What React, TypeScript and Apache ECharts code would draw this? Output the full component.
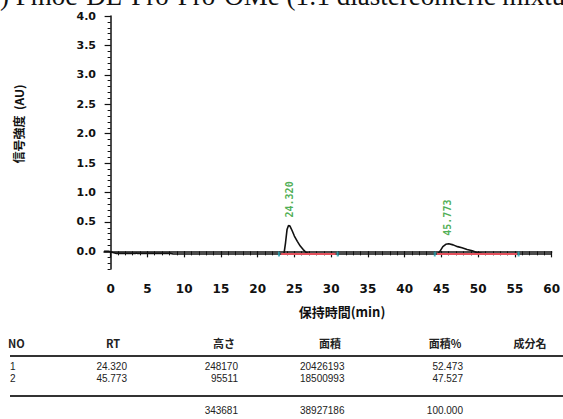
import React, { useEffect, useRef } from "react";
import * as echarts from "echarts";

const titleText = ") Fmoc-DL-Pro-Pro-OMe (1:1 diastereomeric mixture)";
const yAxisTitle = "信号強度  (AU)";
const xAxisTitle = "保持時間(min)";

const yTickValues = [0, 0.5, 1.0, 1.5, 2.0, 2.5, 3.0, 3.5, 4.0];
const xTickValues = [0, 5, 10, 15, 20, 25, 30, 35, 40, 45, 50, 55, 60];

const traceTime = [-0.9, -0.3, 0.3, 0.8, 3.4, 3.5, 3.6, 8.2, 8.5, 23.4, 23.6, 23.8, 24.0, 24.2, 24.4, 24.7, 25.0, 25.4, 25.8, 26.2, 26.6, 27.0, 27.5, 44.5, 44.8, 45.2, 45.6, 46.0, 46.6, 47.2, 47.8, 48.5, 49.2, 49.8, 50.5, 51.2, 60];
const traceSignal = [0.0, 0.0, -0.02, -0.035, -0.035, -0.025, -0.035, -0.035, -0.045, -0.045, -0.03, 0.15, 0.37, 0.44, 0.43, 0.35, 0.26, 0.17, 0.09, 0.03, -0.02, -0.04, -0.045, -0.045, 0.0, 0.08, 0.12, 0.13, 0.11, 0.08, 0.06, 0.03, 0.01, -0.02, -0.035, -0.045, -0.045];

const peakRT = [24.32, 45.773];
const peakTop = [0.44, 0.13];
const peakLabels = ["24.320", "45.773"];

const baselineStart = [23.2, 44.4];
const baselineEnd = [30.6, 55.3];
const baselineLevel = -0.045;
const markerTimes = [22.9, 30.9, 44.1, 55.5];

const tableHeaders = ["NO", "RT", "高さ", "面積", "面積%", "成分名"];
const peakNo = ["1", "2"];
const rtValues = ["24.320", "45.773"];
const heightValues = ["248170", "95511"];
const areaValues = ["20426193", "18500993"];
const areaPctValues = ["52.473", "47.527"];
const heightTotal = "343681";
const areaTotal = "38927186";
const areaPctTotal = "100.000";

export default function App() {
  const ref = useRef<HTMLDivElement>(null);
  useEffect(() => {
    if (!ref.current) return;
    const chart = echarts.init(ref.current, null, { renderer: "svg" });
    const axisFont = { fontFamily: "DejaVu Sans", fontWeight: "bold" as const, fontSize: 11, color: "#111" };
    const txt = (text: string, x: number, y: number, align: string, bold = false, size = 10, family = "Liberation Sans") => ({
      type: "text",
      x,
      y,
      style: { text, fill: "#222", font: `${bold ? "bold " : ""}${size}px "${family}"`, textAlign: align, textVerticalAlign: "middle", lineHeight: size },
    });
    const xMinorTicks = Array.from({ length: 61 }, (_, i) => i);
    const headerX = [8, 113, 224, 330, 445, 530];
    const headerAlign = ["left", "center", "center", "center", "center", "center"];
    const graphics: any[] = [
      { type: "text", x: 0, y: -4, style: { text: titleText, fill: "#111", font: '27px "Liberation Serif"', textVerticalAlign: "middle", lineHeight: 26 } },
      { type: "text", x: 18, y: 124, rotation: Math.PI / 2, style: { text: yAxisTitle, fill: "#111", font: 'bold 12px "Noto Sans CJK JP"', textAlign: "center", textVerticalAlign: "middle" } },
      { type: "text", x: 342, y: 311, style: { text: xAxisTitle, fill: "#111", font: 'bold 13px "Noto Sans CJK JP"', textAlign: "center", textVerticalAlign: "middle" } },
      { type: "line", shape: { x1: 10, y1: 356, x2: 563, y2: 356 }, style: { stroke: "#333", lineWidth: 2 } },
      { type: "line", shape: { x1: 10, y1: 396, x2: 563, y2: 396 }, style: { stroke: "#333", lineWidth: 2 } },
    ];
    tableHeaders.forEach((h, i) => graphics.push(txt(h, headerX[i], 343, headerAlign[i], true, 11, "Noto Sans CJK JP")));
    peakNo.forEach((n, i) => {
      const y = 366 + i * 12;
      graphics.push(txt(n, 10, y, "left"));
      graphics.push(txt(rtValues[i], 127, y, "right"));
      graphics.push(txt(heightValues[i], 238, y, "right"));
      graphics.push(txt(areaValues[i], 300, y, "left"));
      graphics.push(txt(areaPctValues[i], 463, y, "right"));
    });
    graphics.push(txt(heightTotal, 238, 410, "right"));
    graphics.push(txt(areaTotal, 300, 410, "left"));
    graphics.push(txt(areaPctTotal, 463, 410, "right"));

    chart.setOption({
      animation: false,
      backgroundColor: "#fff",
      grid: { left: 104, width: 462, top: 16, bottom: 150 },
      xAxis: [
        {
          type: "value", min: -0.9, max: 60, position: "bottom",
          axisLine: { show: true, lineStyle: { color: "#111", width: 1.5 } },
          axisTick: { show: true, customValues: xTickValues, length: 6, lineStyle: { color: "#111", width: 1.2 } },
          axisLabel: { customValues: xTickValues, margin: 14, ...axisFont, fontSize: 12 },
          splitLine: { show: false },
        },
        {
          type: "value", min: -0.9, max: 60, position: "bottom",
          axisLine: { show: false },
          axisTick: { show: true, customValues: xMinorTicks, length: 4, lineStyle: { color: "#111", width: 1 } },
          axisLabel: { show: false },
          splitLine: { show: false },
        },
      ],
      yAxis: [
        {
          type: "value", min: -0.3, max: 4, position: "left",
          axisLine: { show: true, lineStyle: { color: "#111", width: 1.5 } },
          axisTick: { show: true, customValues: yTickValues, length: 6, lineStyle: { color: "#111", width: 1.2 } },
          axisLabel: { customValues: yTickValues, margin: 8, formatter: (v: number) => v.toFixed(1), ...axisFont },
          splitLine: { show: false },
        },
        {
          type: "value", min: -0.3, max: 4, interval: 0.1, position: "left",
          axisLine: { show: false },
          axisTick: { show: true, length: 3, lineStyle: { color: "#111", width: 1 } },
          axisLabel: { show: false },
          splitLine: { show: false },
        },
      ],
      series: [
        {
          type: "line", name: "trace", xAxisIndex: 0, yAxisIndex: 0, symbol: "none",
          data: traceTime.map((t, i) => [t, traceSignal[i]]),
          lineStyle: { color: "#111", width: 1.6 },
        },
        ...baselineStart.map((s, i) => ({
          type: "line", name: "baseline" + i, xAxisIndex: 0, yAxisIndex: 0, symbol: "none",
          data: [[s, baselineLevel], [baselineEnd[i], baselineLevel]],
          lineStyle: { color: "#e4505c", width: 2 },
          z: 3,
        })),
        {
          type: "scatter", name: "markers", xAxisIndex: 0, yAxisIndex: 0,
          symbol: "rect", symbolSize: [2, 5],
          data: markerTimes.map((t) => [t, baselineLevel]),
          itemStyle: { color: "#2aa8b8" },
          z: 4,
        },
        {
          type: "scatter", name: "peaks", xAxisIndex: 0, yAxisIndex: 0,
          symbolSize: 0,
          data: peakRT.map((t, i) => ({ value: [t, peakTop[i]], label: { formatter: peakLabels[i] } })),
          label: {
            show: true, position: "top", distance: 8, rotate: 90, align: "left", verticalAlign: "middle",
            color: "#1f9a2a", fontFamily: "DejaVu Sans Mono", fontSize: 10, fontWeight: "bold",
          },
          z: 5,
        },
      ],
      graphic: graphics,
    });
    return () => chart.dispose();
  }, []);
  return <div ref={ref} style={{ position: "absolute", left: 0, top: 0, width: 563, height: 419 }} />;
}
